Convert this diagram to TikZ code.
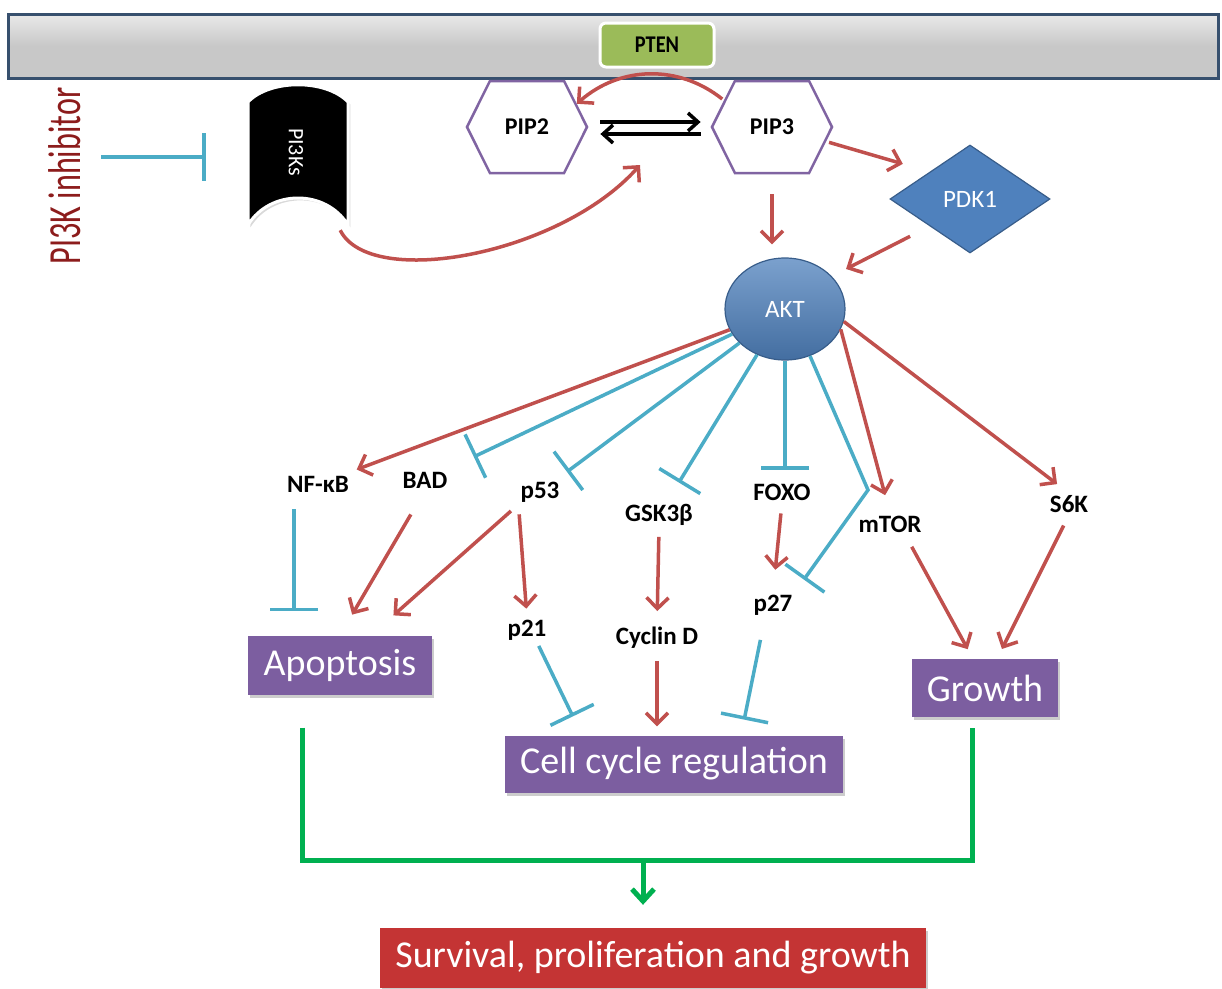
\documentclass[tikz,border=0pt]{standalone}
\usepackage{fontspec}
\setmainfont{Carlito}
\usepackage{graphicx}
\usepackage{tikz}
\usetikzlibrary{arrows.meta,positioning,calc,shapes.geometric,shapes.symbols,shadows}

\definecolor{actred}{RGB}{192,80,77}
\definecolor{inhteal}{RGB}{75,172,198}
\definecolor{hexpurple}{RGB}{128,100,162}
\definecolor{boxpurple}{RGB}{124,94,160}
\definecolor{kinblue}{RGB}{79,129,189}
\definecolor{kinedge}{RGB}{56,93,138}
\definecolor{ptengreen}{RGB}{155,187,89}
\definecolor{outgreen}{RGB}{0,176,80}
\definecolor{survred}{RGB}{196,52,52}
\definecolor{inhibred}{RGB}{140,28,28}
\definecolor{memgray}{RGB}{200,200,200}
\definecolor{memedge}{RGB}{55,80,110}

\tikzset{
  act/.style={draw=actred, line width=3.5pt, -{Straight Barb[length=11pt,width=22pt]}},
  inh/.style={draw=inhteal, line width=3.5pt, -{Bar[width=48pt]}},
  eqarrow/.style={draw=black, line width=3.5pt, -{Straight Barb[length=10pt,width=18pt]}},
  hexa/.style={signal, signal to=east and west, signal pointer angle=127, draw=hexpurple,
    line width=2.5pt, fill=white, minimum width=120, minimum height=92, inner sep=0,
    font=\bfseries\fontsize{24}{26}\selectfont},
  kinase/.style={draw=kinedge, line width=1.2pt, text=white, inner sep=0,
    font=\fontsize{25}{27}\selectfont},
  lbl/.style={font=\bfseries\fontsize{25}{27}\selectfont, inner sep=2pt},
  resbox/.style={fill=boxpurple, text=white, inner sep=0, font=\fontsize{38}{42}\selectfont,
    drop shadow={opacity=0.4, shadow xshift=2pt, shadow yshift=-3pt}},
  outline/.style={draw=outgreen, line width=5pt},
}

\begin{document}
\begin{tikzpicture}[x=1pt,y=-1pt]
\useasboundingbox (0,0) rectangle (1222,988);

% Membrane and PTEN
\node[top color=memgray!40!white, bottom color=memgray, middle color=memgray, draw=memedge,
  line width=3pt, minimum width=1210, minimum height=64, inner sep=0] (mem) at (613,46) {};
\node[fill=ptengreen, draw=white, line width=3pt, rounded corners=6pt, minimum width=114,
  minimum height=44, font=\bfseries\fontsize{24}{26}\selectfont] (pten) at (657,45)
  {\scalebox{0.85}[1]{PTEN}};

% Lipids and kinases
\node[hexa] (pip2) at (527,127) {PIP2};
\node[hexa] (pip3) at (772,127) {PIP3};
\node[kinase, fill=kinblue, diamond, aspect=1.5, minimum width=160, minimum height=108]
  (pdk1) at (970,199) {PDK1};
\node[kinase, ellipse, top color=kinblue!75!white, bottom color=kinblue!85!black,
  minimum width=120, minimum height=102] (akt) at (785,309) {AKT};

% PI3Ks and inhibitor
\fill[black, draw=white, line width=3pt, drop shadow={opacity=0.3}]
  (248,102) .. controls (270,79) and (326,79) .. (348,102) -- (348,225)
  .. controls (326,189) and (270,189) .. (248,225) -- cycle;
\node[minimum width=100, minimum height=136, inner sep=0] (pik) at (298,157) {};
\node[rotate=-90, text=white, font=\fontsize{22}{24}\selectfont] (piklbl) at (296,152) {PI3Ks};
\node[rotate=90, text=inhibred, font=\fontsize{46}{50}\selectfont, inner sep=0]
  (inhib) at (65,176) {\scalebox{0.7}[1]{PI3K inhibitor}};

% Downstream targets
\node[lbl] (nfkb) at (318,484) {NF-κB};
\node[lbl] (bad) at (425,480) {BAD};
\node[lbl] (p53) at (540,492) {p53};
\node[lbl] (gsk) at (659,515) {GSK3β};
\node[lbl] (foxo) at (782,492) {FOXO};
\node[lbl] (mtor) at (890,524) {mTOR};
\node[lbl] (s6k) at (1069,504) {S6K};
\node[lbl] (p21) at (527,630) {p21};
\node[lbl] (cyc) at (657,638) {Cyclin D};
\node[lbl] (p27) at (773,605) {p27};

% Outcomes
\node[resbox, minimum width=184, minimum height=59] (apop) at (340,665) {Apoptosis};
\node[resbox, minimum width=146, minimum height=58] (growth) at (985,688) {Growth};
\node[resbox, minimum width=338, minimum height=57] (cell) at (674,764) {Cell cycle regulation};
\node[resbox, fill=survred, minimum width=546, minimum height=60] (surv) at (653,958)
  {Survival, proliferation and growth};

% Lipid conversion
\draw[act, shorten <=2pt] (pip3.151) to[bend right=40] (pip2.25);
\draw[eqarrow, shorten <=12pt, shorten >=10pt] ([yshift=5pt]pip2.east) -- ([yshift=5pt]pip3.west);
\draw[eqarrow, shorten <=10pt, shorten >=12pt] ([yshift=-7pt]pip3.west) -- ([yshift=-7pt]pip2.east);
\draw[inh, shorten <=20pt, shorten >=42pt] (inhib.south |- pik.west) -- (pik.west);
\coordinate (pipmid) at (640,165);
\draw[act] ([xshift=-8pt,yshift=-5pt]pik.south east) .. controls (370,290) and (560,255) .. (pipmid);

% Activation of AKT
\draw[act, shorten <=20pt, shorten >=13pt] (pip3.south) -- (pip3.south |- akt.north);
\draw[act, shorten <=3pt, shorten >=28pt] (pip3.-15) -- (pdk1.north west);
\draw[act, shorten <=22pt, shorten >=16pt] (pdk1.south west) -- (akt.35);

% AKT targets
\draw[act, shorten >=12pt] (akt) -- (nfkb);
\draw[inh, shorten >=30pt] (akt) -- (bad);
\draw[inh, shorten >=13pt] (akt) -- (p53);
\draw[inh, shorten >=23pt] (akt) -- (gsk);
\draw[inh, shorten >=12pt] (akt.south) -- (akt.south |- foxo.north);
\coordinate (bendp) at (868,490);
\draw[inh, shorten >=16pt] (akt.-62) -- (bendp) -- (p27.north east);
\draw[act, shorten >=19pt] (akt.-20) -- (mtor.north);
\draw[act, shorten >=15pt] (akt.-12) -- (s6k.north);

% Second tier
\draw[inh, shorten <=15pt, shorten >=24pt] ([xshift=9pt]nfkb.south west) -- ([xshift=9pt]nfkb.south west |- apop.north);
\draw[act, shorten <=28pt, shorten >=24pt] (bad.south) -- (apop.north);
\draw[act, shorten <=10pt, shorten >=30pt] (p53.south west) -- ([xshift=31pt]apop.north);
\draw[act, shorten <=10pt, shorten >=9pt] (p53.south west) -- (p21.north);
\draw[act, shorten <=9pt, shorten >=14pt] (gsk.south) -- (cyc.north);
\draw[act, shorten <=11pt, shorten >=23pt] (foxo.south) -- (p27.north);
\draw[inh, shorten <=4pt, shorten >=21pt] ([xshift=10pt]p21.south) -- ([xshift=-92pt]cell.north);
\draw[act, shorten <=10pt, shorten >=9pt] (cyc.south) -- (cyc.south |- cell.north);
\draw[inh, shorten <=23pt, shorten >=16pt] ([xshift=-8pt]p27.south) -- ([xshift=67pt]cell.north);
\draw[act, shorten <=14pt, shorten >=11pt] ([xshift=15pt]mtor.south) -- ([xshift=-12pt]growth.north);
\draw[act, shorten <=12pt, shorten >=11pt] (s6k.south) -- ([xshift=12pt]growth.north);

% Joint outcome
\coordinate (join) at (643,860);
\draw[outline] ([xshift=-38pt,yshift=-33pt]apop.south) |- (join) -| ([xshift=-13pt,yshift=-11pt]growth.south);
\draw[outline, -{Straight Barb[length=12pt,width=22pt]}, shorten >=23pt] (join) -- (join |- surv.north);
\end{tikzpicture}
\end{document}
